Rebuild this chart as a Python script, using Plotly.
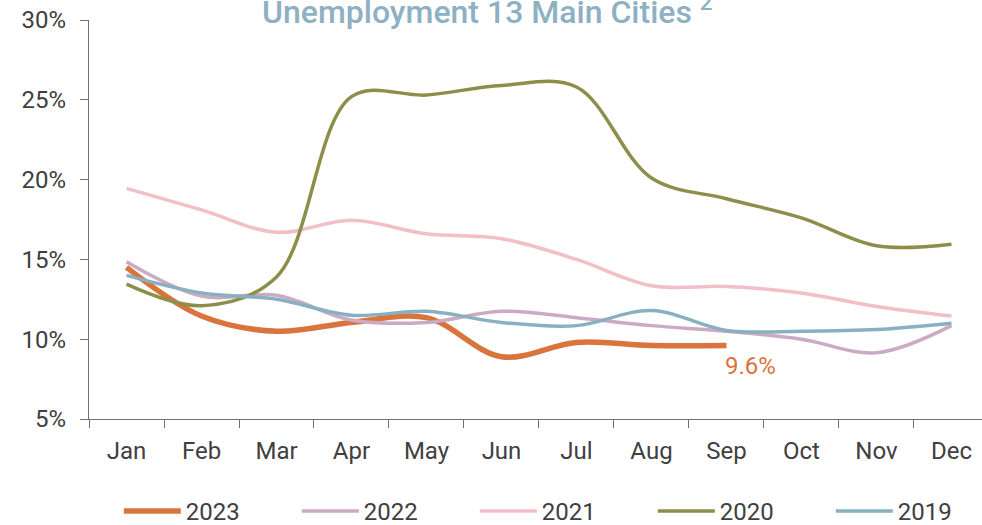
import plotly.graph_objects as go

months = ["Jan", "Feb", "Mar", "Apr", "May", "Jun", "Jul", "Aug", "Sep", "Oct", "Nov", "Dec"]

y2023 = [14.5, 11.45, 10.5, 11.05, 11.35, 8.9, 9.8, 9.6, 9.6]
y2022 = [14.85, 12.7, 12.75, 11.2, 11.05, 11.75, 11.35, 10.85, 10.5, 10.0, 9.15, 10.85]
y2021 = [19.45, 18.1, 16.7, 17.45, 16.6, 16.3, 15.0, 13.35, 13.3, 12.9, 12.05, 11.45]
y2020 = [13.45, 12.1, 13.9, 25.2, 25.3, 25.9, 25.8, 20.1, 18.8, 17.6, 15.85, 15.95]
y2019 = [14.0, 12.9, 12.5, 11.5, 11.75, 11.05, 10.85, 11.8, 10.55, 10.5, 10.6, 11.0]

series = [
    ("2023", y2023, "#D9743D", 5.5),
    ("2022", y2022, "#CBABC3", 3.5),
    ("2021", y2021, "#F3BFC6", 3.5),
    ("2020", y2020, "#8E8E4B", 3.5),
    ("2019", y2019, "#89B0C0", 3.5),
]

FONT = "Roboto"
TXT = "#404040"

fig = go.Figure()
for name, vals, color, w in series:
    fig.add_trace(go.Scatter(
        x=months[:len(vals)], y=vals, name=name, mode="lines",
        line=dict(color=color, width=w, shape="spline", smoothing=1.0),
    ))

fig.add_annotation(
    x=months[len(y2023) - 1], y=y2023[-1], text="9.6%",
    xanchor="left", yanchor="top", xshift=-3, yshift=-4,
    showarrow=False, font=dict(family=FONT, size=24, color="#D9743D"),
)

fig.add_annotation(
    x=0.446, xref="paper", y=1, yref="paper", yanchor="middle", yshift=10,
    text="Unemployment 13 Main Cities <sup>2</sup>", showarrow=False,
    font=dict(family=FONT, size=32, color="#8DB1C3", weight=500),
)

fig.update_layout(
    width=982, height=525,
    margin=dict(l=89, r=0, t=20, b=106, autoexpand=False),
    paper_bgcolor="white", plot_bgcolor="white",
    font=dict(family=FONT, size=23, color=TXT),
    showlegend=True,
    legend=dict(
        orientation="h", xref="container", yref="container",
        x=0.121, xanchor="left", y=0.026, yanchor="middle",
        itemwidth=57, entrywidth=106, entrywidthmode="pixels",
        font=dict(family=FONT, size=24, color=TXT),
        bgcolor="rgba(0,0,0,0)",
    ),
    xaxis=dict(
        type="category", categoryorder="array", categoryarray=months,
        range=[-0.5, 11.407], tickson="boundaries", ticks="outside",
        ticklen=8, tickcolor="#707070", showline=True, linecolor="#707070",
        linewidth=1.3, showgrid=False, zeroline=False, ticklabelstandoff=10,
        automargin=False, ticklabeloverflow="allow",
        tickfont=dict(family=FONT, size=24, color=TXT),
    ),
    yaxis=dict(
        range=[5, 30], dtick=5, ticksuffix="%", ticks="outside", ticklen=8,
        tickcolor="#707070", showline=True, linecolor="#707070", linewidth=1.3,
        showgrid=False, zeroline=False, ticklabelstandoff=9, automargin=False,
        ticklabeloverflow="allow",
        tickfont=dict(family=FONT, size=24, color=TXT),
    ),
)

fig.write_html(
    "out.html",
    config={"displayModeBar": False},
    post_script="document.body.style.margin='0';document.body.style.overflow='hidden';",
)
